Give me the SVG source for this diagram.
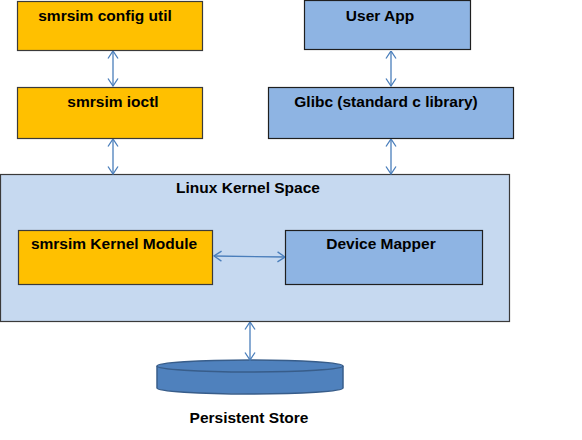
<svg xmlns="http://www.w3.org/2000/svg" width="582" height="440" viewBox="0 0 582 440">
<style>
text{font-family:"Liberation Sans",Arial,sans-serif;font-weight:bold;font-size:15.5px;fill:#000;text-anchor:middle}
.or{fill:#FFC000;stroke:#3a3a3a;stroke-width:1.2}
.bl{fill:#8EB4E3;stroke:#1f1f1f;stroke-width:1.2}
.ks{fill:#C6D9F0;stroke:#3a3a3a;stroke-width:1.2}
.c{fill:none;stroke:#4A7EBB;stroke-width:1.3;marker-start:url(#ah);marker-end:url(#ah)}
</style>
<defs>
<marker id="ah" viewBox="0 0 10 12" refX="9.5" refY="6" markerWidth="10" markerHeight="12" markerUnits="userSpaceOnUse" orient="auto-start-reverse">
<path d="M2,1 L9.5,6 L2,11" fill="none" stroke="#4A7EBB" stroke-width="1.3"/>
</marker>
</defs>
<rect x="0" y="0" width="582" height="440" fill="#fff"/>
<g id="kernel-space">
<rect class="ks" x="0.5" y="174.5" width="509" height="147"/>
<text x="248" y="193">Linux Kernel Space</text>
</g>
<g id="config-util">
<rect class="or" x="17.5" y="1.5" width="185" height="49"/>
<text x="105" y="21">smrsim config util</text>
</g>
<g id="ioctl">
<rect class="or" x="17.5" y="87.5" width="185" height="51"/>
<text x="113" y="107">smrsim ioctl</text>
</g>
<g id="user-app">
<rect class="bl" x="304.5" y="0.5" width="166" height="49"/>
<text x="380" y="21">User App</text>
</g>
<g id="glibc">
<rect class="bl" x="268.5" y="87.5" width="245" height="51"/>
<text x="386" y="107">Glibc (standard c library)</text>
</g>
<g id="kernel-module">
<rect class="or" x="18.5" y="230.5" width="194" height="54"/>
<text x="114" y="249">smrsim Kernel Module</text>
</g>
<g id="device-mapper">
<rect class="bl" x="285.5" y="230.5" width="197" height="54"/>
<text x="381" y="249">Device Mapper</text>
</g>
<g id="persistent-store">
<path d="M157,366 L157,388 A93,6 0 0 0 343,388 L343,366" fill="#4F81BD" stroke="#385D8A" stroke-width="1.5"/>
<ellipse cx="250" cy="366" rx="93" ry="6" fill="#4F81BD" stroke="#385D8A" stroke-width="1.5"/>
<text x="249" y="423">Persistent Store</text>
</g>
<g id="connectors">
<line class="c" x1="113" y1="51" x2="113" y2="86"/>
<line class="c" x1="113" y1="139" x2="113" y2="174"/>
<line class="c" x1="391" y1="51" x2="391" y2="86"/>
<line class="c" x1="391" y1="139" x2="391" y2="174"/>
<line class="c" x1="214" y1="256" x2="285" y2="257"/>
<line class="c" x1="250" y1="322" x2="250" y2="360"/>
</g>
</svg>
